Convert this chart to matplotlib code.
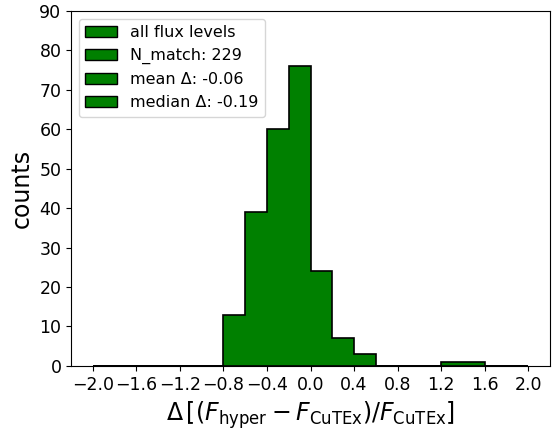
import numpy as np
import matplotlib.pyplot as plt
from matplotlib.patches import Patch

# histogram of relative flux differences, bins of 0.2 from -2 to 2
bin_edges = np.arange(-2.0, 2.0001, 0.2)
bin_counts = [0, 0, 0, 0, 0, 0, 13, 39, 60, 76, 24, 7, 3, 0, 0, 0, 1, 1, 0, 0]
labels = ['all flux levels', 'N_match: 229', 'mean Δ: -0.06', 'median Δ: -0.19']

centers = 0.5 * (bin_edges[:-1] + bin_edges[1:])

fig = plt.figure(figsize=(5.6, 4.32), dpi=100)
ax = fig.add_axes([0.127, 0.153, 0.855, 0.822])
ax.hist(centers, bins=bin_edges, weights=bin_counts, histtype='stepfilled',
        facecolor='green', edgecolor='black', linewidth=1.2)

ax.set_xlim(-2.2, 2.2)
ax.set_ylim(0, 90)
ax.set_xticks(np.arange(-2.0, 2.01, 0.4))
ax.tick_params(labelsize=12.5)
ax.set_xlabel(r'$\Delta\,[(F_{\rm hyper}-F_{\rm CuTEx})/F_{\rm CuTEx}]$', fontsize=17)
ax.set_ylabel('counts', fontsize=17)

handles = [Patch(facecolor='green', edgecolor='black') for _ in labels]
ax.legend(handles, labels, loc='upper left', fontsize=11.5)

fig.savefig('out.png')
